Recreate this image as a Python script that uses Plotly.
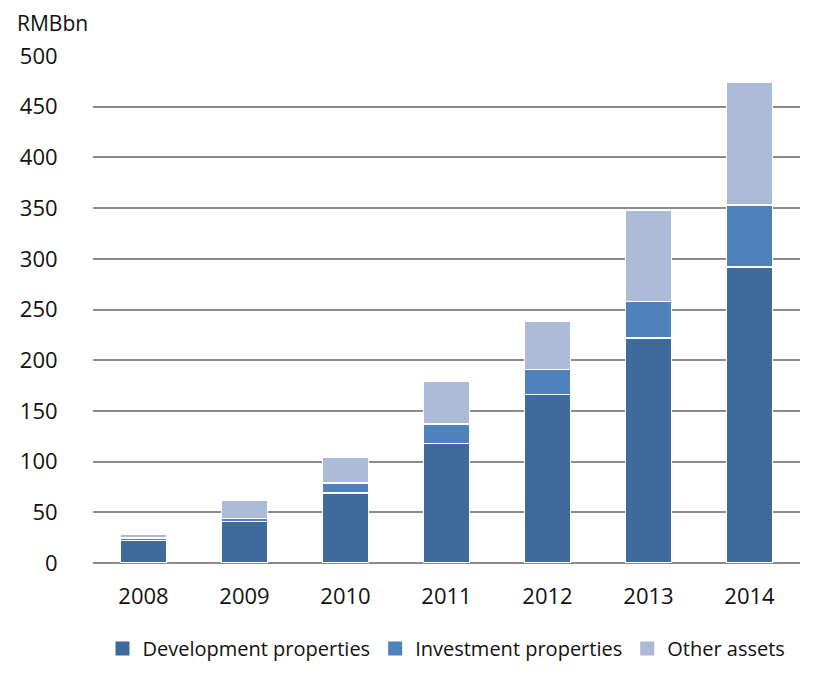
import plotly.graph_objects as go

years = ["2008", "2009", "2010", "2011", "2012", "2013", "2014"]
development = [22, 41, 69, 118, 166, 222, 292]
investment = [2.5, 3, 10, 19, 25, 36, 61]
other = [3.5, 18, 25, 42, 47, 90, 121]

names = ["Development properties", "Investment properties", "Other assets"]
colors = ["#3F6A9C", "#4F81BD", "#AABAD7"]

fig = go.Figure()
for name, vals, col in zip(names, [development, investment, other], colors):
    fig.add_trace(go.Bar(
        x=years, y=vals, name=name, showlegend=False,
        marker=dict(color=col, line=dict(color="white", width=1.5)),
    ))
# legend proxies with bigger square swatches
for name, col in zip(names, colors):
    fig.add_trace(go.Scatter(
        x=[None], y=[None], mode="markers", name=name,
        marker=dict(symbol="square", size=14, color=col),
    ))

fig.update_layout(
    barmode="stack",
    bargap=0.54,
    width=828, height=680,
    margin=dict(l=82, r=36, t=48, b=125),
    paper_bgcolor="white", plot_bgcolor="white",
    font=dict(family="Open Sans", size=21, color="#111111"),
    showlegend=True,
    legend=dict(orientation="h", x=0.5, xanchor="center", y=-0.13, yanchor="top",
                font=dict(size=20), traceorder="normal", itemwidth=30),
)
fig.add_annotation(text="RMBbn", xref="paper", yref="paper",
                   x=-0.11, y=1.065, xanchor="left", yanchor="middle",
                   showarrow=False, font=dict(size=21))
fig.update_yaxes(range=[0, 500], dtick=50, showgrid=True, gridcolor="#8c8c8c",
                 gridwidth=1.5, zeroline=True, zerolinecolor="#8c8c8c", zerolinewidth=1.5,
                 ticks="outside", ticklen=30, tickcolor="rgba(0,0,0,0)",
                 tickfont=dict(size=22))
fig.update_xaxes(showgrid=False, showline=False, tickfont=dict(size=22),
                 ticks="outside", ticklen=14, tickcolor="rgba(0,0,0,0)")

fig.write_html("out.html")
